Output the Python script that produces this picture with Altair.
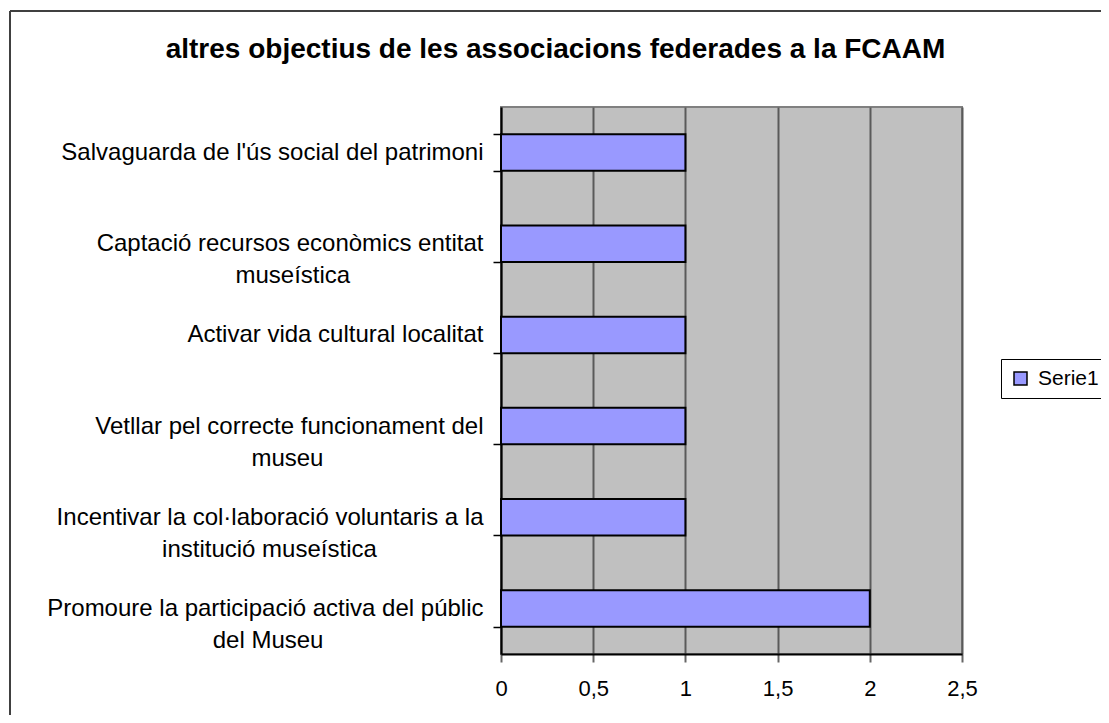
import altair as alt
import pandas as pd

# ---------------- data ----------------
categories = [
    "Salvaguarda de l'ús social del patrimoni",
    "Captació recursos econòmics entitat|museística",
    "Activar vida cultural localitat",
    "Vetllar pel correcte funcionament del|museu",
    "Incentivar la col·laboració voluntaris a la|institució museística",
    "Promoure la participació activa del públic|del Museu",
]
values = [1, 1, 1, 1, 1, 2]
series_name = "Serie1"
x_ticks = [0, 0.5, 1, 1.5, 2, 2.5]
chart_title = "altres objectius de les associacions federades a la FCAAM"

# ---------------- helpers: centre the lines of each label block ----------------
ARIAL = {
    'a': 556, 'b': 556, 'c': 500, 'd': 556, 'e': 556, 'f': 278, 'g': 556, 'h': 556,
    'i': 222, 'j': 222, 'k': 500, 'l': 222, 'm': 833, 'n': 556, 'o': 556, 'p': 556,
    'q': 556, 'r': 333, 's': 500, 't': 278, 'u': 556, 'v': 500, 'w': 722, 'x': 500,
    'y': 500, 'z': 500, ' ': 278, "'": 191, '·': 278, 'ó': 556, 'ò': 556, 'í': 278,
    'ú': 556, 'à': 556, 'é': 556, 'S': 667, 'C': 722, 'A': 667, 'V': 667, 'I': 278,
    'P': 667, 'M': 833,
}


def text_w(s):
    return sum(ARIAL.get(ch, 556) for ch in s)


def centred(label):
    lines = label.split('|')
    wmax = max(text_w(l) for l in lines)
    out = []
    for l in lines:
        n = int(round((wmax - text_w(l)) / 2 / 278))
        out.append(l + ('\u00a0' * n + '\u200b' if n else ''))
    return '|'.join(out)


display = [centred(c) for c in categories]

df = pd.DataFrame({
    'cat': display,
    'value': values,
    'serie': [series_name] * len(values),
})

W, H = 461, 547
PAD_L, PAD_T = 493, 99
TOTAL_W, TOTAL_H = 1093, 707
FONT = 'Liberation Sans'

bars = alt.Chart(df).mark_bar(stroke='black', strokeWidth=2).encode(
    y=alt.Y(
        'cat:N', sort=display,
        scale=alt.Scale(paddingInner=0.6, paddingOuter=0.3),
        axis=alt.Axis(
            title=None,
            labelExpr="isValid(datum.value) ? split(datum.value, '|') : ''",
            labelAlign='right', labelBaseline='middle', labelFontSize=24,
            labelFont=FONT, labelColor='black', labelPadding=10, labelLimit=0,
            labelLineHeight=32, tickBand='extent', tickSize=8, tickColor='black',
            tickWidth=1.5, domainColor='black', domainWidth=2, grid=False,
        ),
    ),
    x=alt.X(
        'value:Q', scale=alt.Scale(domain=[0, 2.5], nice=False, zero=True),
        axis=alt.Axis(
            title=None, values=x_ticks, format='.1~f',
            labelExpr="replace(datum.label, '.', ',')", labelFlush=False,
            labelFontSize=22, labelFont=FONT, labelColor='black', labelPadding=16,
            tickSize=8, tickColor='#666666', tickWidth=2, domainColor='black',
            domainWidth=2, grid=True, gridColor='#5a5a5a', gridWidth=2,
        ),
    ),
    color=alt.Color(
        'serie:N', scale=alt.Scale(range=['#9999FF']),
        legend=alt.Legend(
            title=None, orient='none', legendX=500, legendY=252, symbolType='square',
            symbolSize=169, symbolStrokeColor='black', symbolStrokeWidth=1.5,
            labelFontSize=21, labelFont=FONT, labelColor='black', strokeColor='black',
            fillColor='white', padding=9, labelOffset=7, direction='vertical',
        ),
    ),
)

frame_df = pd.DataFrame({'k': [0]})
frame_left = alt.Chart(frame_df).mark_rule(color='#404040', strokeWidth=2).encode(
    x=alt.value(-491), y=alt.value(-96), y2=alt.value(TOTAL_H - PAD_T)
)
frame_top = alt.Chart(frame_df).mark_rule(color='#404040', strokeWidth=2).encode(
    x=alt.value(-491), x2=alt.value(TOTAL_W - PAD_L), y=alt.value(-96)
)

chart = alt.layer(bars, frame_left, frame_top).properties(
    width=W, height=H,
    title=alt.TitleParams(
        chart_title, font=FONT, fontSize=28, fontWeight='bold', color='black',
        anchor='middle', dx=-176, offset=-76, baseline='alphabetic',
    ),
    autosize=alt.AutoSizeParams(type='none'),
    padding={'left': PAD_L, 'top': PAD_T, 'right': TOTAL_W - PAD_L - W,
             'bottom': TOTAL_H - PAD_T - H},
    background='white',
).configure_view(
    stroke='#808080', strokeWidth=2, fill='#C0C0C0'
)

chart.save("out.html", embed_options={"renderer": "svg", "actions": False})
